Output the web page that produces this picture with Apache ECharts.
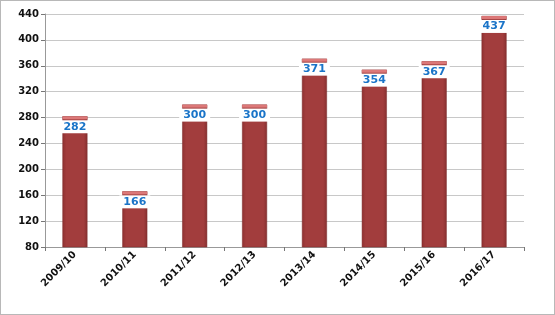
<!DOCTYPE html>
<html><head><meta charset="utf-8">
<style>html,body{margin:0;padding:0;background:#fff}#c{width:555px;height:315px;box-sizing:border-box;border:1px solid #b8b8b8}</style>
<script src="https://cdn.jsdelivr.net/npm/echarts@6/dist/echarts.min.js"></script>
</head><body><div id="c"></div>
<script>
const categories = ['2009/10','2010/11','2011/12','2012/13','2013/14','2014/15','2015/16','2016/17'];
const values = [282,166,300,300,371,354,367,437];
const yMin = 80, yMax = 440, yStep = 40;

const chart = echarts.init(document.getElementById('c'), null, {renderer:'canvas'});
chart.setOption({
  animation:false,
  grid:{left:44,right:30,top:13,bottom:67},
  xAxis:{type:'category',data:categories,
    axisLine:{lineStyle:{color:'#999'}},
    axisTick:{show:true,lineStyle:{color:'#777'},length:4},
    axisLabel:{rotate:45,fontFamily:'DejaVu Sans',fontWeight:'bold',fontSize:10,color:'#111',margin:6}},
  yAxis:{type:'value',min:yMin,max:yMax,interval:yStep,
    axisLine:{show:true,lineStyle:{color:'#999'}},
    axisTick:{show:true,length:4,lineStyle:{color:'#777'}},
    splitLine:{lineStyle:{color:'#c8c8c8'}},
    axisLabel:{fontFamily:'DejaVu Sans',fontWeight:'bold',fontSize:10,color:'#111',margin:6}},
  series:[
    {type:'bar',data:values,barWidth:25,
      itemStyle:{color:{type:'linear',x:0,y:0,x2:1,y2:0,colorStops:[{offset:0,color:'#8e3030'},{offset:0.15,color:'#a23d3d'},{offset:0.85,color:'#a23d3d'},{offset:1,color:'#863030'}]},borderColor:'#7d2c2c',borderWidth:0.5},
      label:{show:true,position:'insideTop',distance:4,color:'#1a74c8',fontFamily:'DejaVu Sans',fontWeight:'bold',fontSize:11,backgroundColor:'#fff',padding:[1,4,1,4]}},
    {type:'pictorialBar',data:values,symbol:'rect',symbolSize:[25,3],symbolPosition:'end',symbolOffset:[0,0],
      itemStyle:{color:'#dc7878',borderColor:'#b04a4a',borderWidth:0.5},z:3}
  ]
});
</script></body></html>
